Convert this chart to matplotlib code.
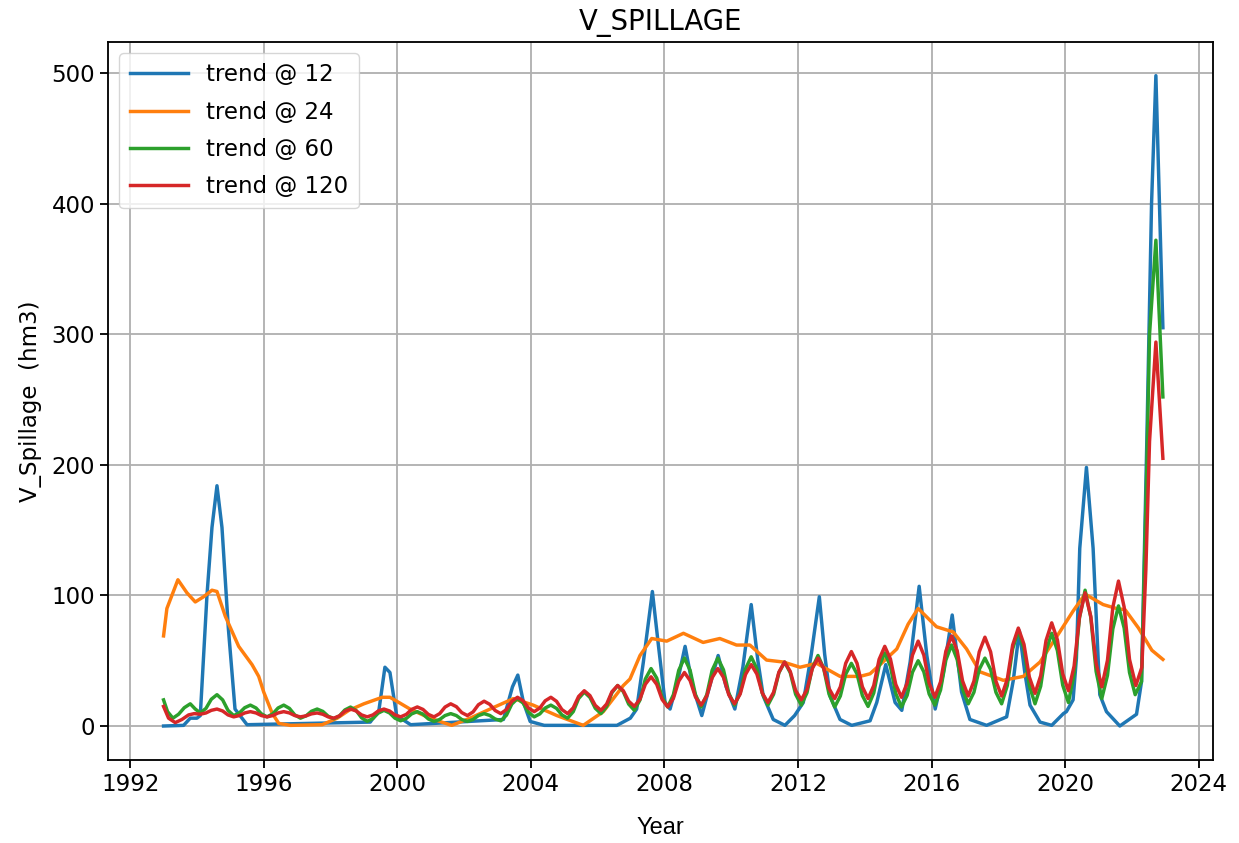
import matplotlib
matplotlib.use("Agg")
import matplotlib.pyplot as plt
from matplotlib.ticker import MultipleLocator, FormatStrFormatter

# trend @ 12 (decimal year, hm3)
blue_t = [1993.0, 1993.6, 1993.8, 1994.0, 1994.1, 1994.3, 1994.45, 1994.6, 1994.75, 1994.94,
          1995.14, 1995.5, 1999.19, 1999.45, 1999.63, 1999.78, 1999.98, 2000.4, 2003.18, 2003.45,
          2003.61, 2003.78, 2003.98, 2004.4, 2006.58, 2006.98, 2007.17, 2007.37, 2007.64, 2007.82,
          2008.02, 2008.17, 2008.4, 2008.62, 2008.85, 2009.12, 2009.35, 2009.61, 2009.85, 2010.11,
          2010.35, 2010.6, 2010.8, 2010.96, 2011.26, 2011.61, 2011.9, 2012.16, 2012.4, 2012.64,
          2012.8, 2012.96, 2013.26, 2013.61, 2014.16, 2014.36, 2014.63, 2014.91, 2015.11, 2015.36,
          2015.63, 2015.86, 2016.11, 2016.35, 2016.62, 2016.9, 2017.15, 2017.65, 2018.25, 2018.45,
          2018.63, 2018.8, 2018.95, 2019.25, 2019.6, 2019.95, 2020.04, 2020.24, 2020.34, 2020.44,
          2020.64, 2020.84, 2021.04, 2021.24, 2021.64, 2022.14, 2022.29, 2022.45, 2022.59, 2022.72,
          2022.93]
blue_v = [0, 0.5, 6, 6, 8, 100, 152, 184, 152, 75,
          13, 1, 3, 12, 45, 41, 8, 1, 5, 30,
          39, 18, 3.5, 0.5, 0.5, 6, 13, 49, 103, 62,
          18, 13, 35, 61, 30, 8, 30, 54, 30, 13,
          45, 93, 50, 23, 5, 0.5, 8, 18, 55, 99,
          55, 23, 5, 0.5, 4, 18, 47, 18, 12, 49,
          107, 54, 13, 40, 85, 26, 5, 0.5, 7, 35,
          73, 40, 16, 3, 0.5, 9.5, 11, 20, 52, 136,
          198, 136, 24, 11, 0, 9, 34, 220, 400, 498,
          305]

# trend @ 24
orange_t = [1993.0, 1993.1, 1993.43, 1993.7, 1993.95, 1994.2, 1994.45, 1994.6, 1994.85, 1995.25,
            1995.65, 1995.85, 1996.0, 1996.25, 1996.45, 1996.8, 1997.75, 1998.2, 1998.55, 1999.0,
            1999.55, 1999.78, 2000.05, 2000.38, 2000.98, 2001.63, 2002.18, 2002.78, 2003.48, 2004.07,
            2004.78, 2005.57, 2006.17, 2006.77, 2006.97, 2007.27, 2007.62, 2008.07, 2008.57, 2009.16,
            2009.66, 2010.16, 2010.56, 2011.06, 2011.56, 2012.06, 2012.56, 2013.26, 2013.86, 2014.16,
            2014.46, 2014.96, 2015.3, 2015.6, 2016.15, 2016.65, 2017.05, 2017.45, 2018.15, 2018.75,
            2019.25, 2019.84, 2020.24, 2020.6, 2021.14, 2021.54, 2021.8, 2022.2, 2022.6, 2022.93]
orange_v = [69, 90, 112, 102, 95, 99, 104, 103, 84, 61,
            47, 38, 26, 10, 2, 0.5, 1, 6, 12, 17,
            22, 22, 18, 13, 6, 0.5, 6, 13, 21, 16,
            8, 0.5, 11, 31, 36, 54, 67, 65, 71, 64,
            67, 62, 62, 50.5, 49, 45, 48, 38, 38, 40,
            47, 59, 78, 90, 76, 72, 59, 41.5, 35, 38,
            49, 72, 88, 101, 93, 90, 89, 75, 58, 51]

# trend @ 60 and trend @ 120: start of 1993, one row per year 1994-2021
# (values at .10 .27 .43 .60 .77 .93 of the year), end of 2022
green_head_t = [1993.0, 1993.12, 1993.28, 1993.45, 1993.62, 1993.8, 1993.95]
green_head = [20, 11, 6, 9, 14, 17, 13]
green_years = [
    [10, 13.5, 20.5, 24, 20, 12], [8, 10, 14, 16, 13.8, 9.3],
    [7, 9.3, 13.8, 16, 13.5, 8.5], [6, 7.8, 11.3, 13, 11.2, 7.5],
    [5.6, 7.8, 12.3, 14.5, 11.8, 6.3], [3.6, 5.7, 9.9, 12, 10, 6],
    [4, 5.8, 9.3, 11, 9.1, 5.4], [3.5, 5, 8, 9.5, 8, 5],
    [3.5, 5, 8, 9.5, 8.1, 5.4], [4, 8.3, 16.8, 21, 17.5, 10.5],
    [7, 9.3, 13.8, 16, 13.5, 8.5], [6, 11, 21, 26, 21.9, 13.6],
    [9.5, 14.9, 25.6, 31, 26.3, 16.8], [12, 20, 36, 44, 36.7, 22],
    [14.6, 24, 42.7, 52, 42.7, 24], [14.6, 24, 42.7, 52, 43, 25],
    [16, 25.3, 43.8, 53, 43.8, 25.3], [16, 24.3, 40.8, 49, 40.8, 24.3],
    [16, 25.5, 44.5, 54, 44.2, 24.5], [14.6, 23, 39.7, 48, 39.8, 23.3],
    [15, 25.3, 45.8, 56, 45.7, 24.9], [14.6, 23.5, 41.2, 50, 41.5, 24.5],
    [16, 27.5, 50.5, 62, 50.8, 28.3], [17, 25.8, 43.3, 52, 43.3, 25.8],
    [17, 31, 59, 73, 59, 31], [17, 30.5, 57.5, 71, 57.8, 31.3],
    [18, 39.5, 82.5, 104, 83.3, 41.8], [21, 38.8, 74.3, 92, 75, 41],
]
green_tail_t = [2022.1, 2022.29, 2022.45, 2022.53, 2022.72, 2022.93]
green_tail = [24, 34, 200, 300, 372, 252]

red_head_t = [1993.0, 1993.15, 1993.35, 1993.55, 1993.75, 1993.92]
red_head = [15, 6, 2.6, 5, 8.5, 9.5]
red_years = [
    [9, 10, 12, 13, 11.5, 8.5], [7, 8, 10, 11, 10, 8],
    [7, 8, 10, 11, 10, 8], [7, 7.8, 9.3, 10, 9, 7],
    [6, 7.8, 11.3, 13, 11.5, 8.5], [7, 8.5, 11.5, 13, 11.5, 8.5],
    [7, 8.9, 12.7, 14.6, 12.7, 8.9], [7, 9.5, 14.5, 17, 14.8, 10.3],
    [8, 10.8, 16.3, 19, 16.6, 11.9], [9.5, 12.6, 18.9, 22, 19.3, 13.8],
    [11, 13.8, 19.3, 22, 18.9, 12.6], [9.5, 13.9, 22.6, 27, 23.3, 15.8],
    [12, 16.8, 26.3, 31, 27, 19], [15, 20.7, 32, 37.7, 31.9, 20.4],
    [14.6, 21.2, 34.4, 41, 34.8, 22.3], [16, 23, 37, 44, 37.3, 23.8],
    [17, 24.5, 39.5, 47, 39.8, 25.3], [18, 25.8, 41.3, 49, 41.8, 27.3],
    [20, 28, 44, 52, 44.3, 28.8], [21, 30, 48, 57, 48, 30],
    [21, 31, 51, 61, 51.3, 31.8], [22, 32.8, 54.3, 65, 54.3, 32.8],
    [22, 33.8, 57.3, 69, 57.5, 34.5], [23, 34.3, 56.8, 68, 56.8, 34.3],
    [23, 36, 62, 75, 62.5, 37.5], [25, 38.5, 65.5, 79, 66, 40],
    [27, 45.8, 83.3, 102, 84, 48], [30, 50.3, 90.8, 111, 91, 51],
]
red_tail_t = [2022.12, 2022.3, 2022.42, 2022.53, 2022.72, 2022.93]
red_tail = [31, 45, 120, 218, 294, 205]

season = [0.1, 0.27, 0.43, 0.6, 0.77, 0.93]
year_t = [y + f for y in range(1994, 2022) for f in season]

green_t = green_head_t + year_t + green_tail_t
green_v = green_head + [v for row in green_years for v in row] + green_tail
red_t = red_head_t + year_t + red_tail_t
red_v = red_head + [v for row in red_years for v in row] + red_tail

s = 1.65
plt.rcParams["font.size"] = 10 * s

fig = plt.figure(figsize=(12.39, 8.43), dpi=100)
ax = fig.add_axes([0.087, 0.0985, 0.892, 0.852])

lw = 1.5 * s
ax.plot(blue_t, blue_v, color="tab:blue", lw=lw, label="trend @ 12")
ax.plot(orange_t, orange_v, color="tab:orange", lw=lw, label="trend @ 24")
ax.plot(green_t, green_v, color="tab:green", lw=lw, label="trend @ 60")
ax.plot(red_t, red_v, color="tab:red", lw=lw, label="trend @ 120")

ax.set_title("V_SPILLAGE", fontsize=12 * s, pad=5 * s)
ax.set_ylabel("V_Spillage  (hm3)", labelpad=4 * s)
ax.xaxis.set_major_locator(MultipleLocator(4))
ax.xaxis.set_major_formatter(FormatStrFormatter("%d"))
ax.set_xlim(1991.33, 2024.43)
ax.set_ylim(-26, 524)
ax.grid(True, lw=0.8 * s)
ax.tick_params(width=0.8 * s, length=3.5 * s)
for sp in ax.spines.values():
    sp.set_linewidth(0.8 * s)
ax.legend(loc="upper left", handlelength=2 * s / 1.3, borderpad=0.45, labelspacing=0.62)

fig.text(660 / 1239, 1 - 828 / 843, "Year", ha="center", va="center",
         fontsize=17, family="Liberation Sans")

fig.savefig("out.png", dpi=100)
